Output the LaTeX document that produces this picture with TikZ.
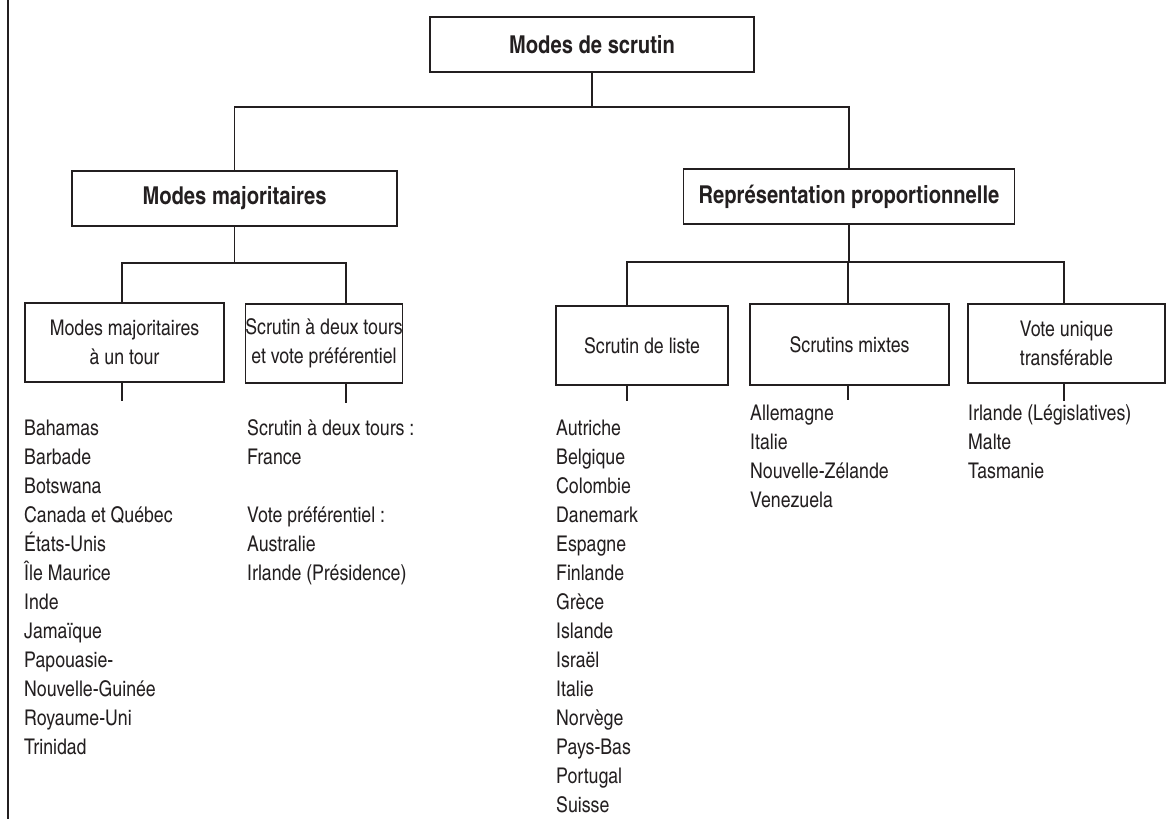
\documentclass[tikz,border=0pt]{standalone}
\usepackage{fontspec}
\setmainfont{texgyreheroscn}[Extension=.otf,UprightFont=*-regular,BoldFont=*-bold,ItalicFont=*-italic,BoldItalicFont=*-bolditalic]
\usetikzlibrary{positioning}
\definecolor{ink}{HTML}{231F20}

\begin{document}
\begin{tikzpicture}[x=1pt,y=-1pt,
  every node/.style={text=ink,font=\fontsize{21.6}{29}\selectfont},
  modebox/.style={draw=ink,line width=1.2pt,inner sep=0pt,align=center},
  headbox/.style={modebox,font=\fontsize{24.6}{29}\selectfont\bfseries,
                  minimum height=55},
  country/.style={anchor=base west,inner sep=0pt},
  link/.style={draw=ink,line width=1.2pt}]

  \useasboundingbox (0,0) rectangle (1173,819);
  \draw [link] (8,0) -- (8,819);

  % top level
  \node [headbox,minimum width=324] (root) at (592,44.5) {Modes de scrutin};
  \node [headbox,minimum width=325] (major) at (234.5,198.5) {Modes majoritaires};
  \node [headbox,minimum width=331] (propor) at (849,196.5)
        {Représentation proportionnelle};

  \coordinate (jTop) at (0,107);
  \draw [link] (root.south) -- (root.south |- jTop);
  \draw [link] (major.north) -- (major.north |- jTop)
        -- (propor.north |- jTop) -- (propor.north);

  % modes majoritaires
  \node [modebox,minimum width=199,minimum height=79] (unTour) at (124.5,342.5)
        {Modes majoritaires\\à un tour};
  \node [modebox,minimum width=154,minimum height=79] (deuxTours) at (324,343.5)
        {Scrutin à deux tours\\et vote préférentiel};

  \coordinate (jUn) at (122,263);
  \coordinate (jDeux) at (346,263);
  \draw [link] (major.south) -- (major.south |- jUn);
  \draw [link] (jUn |- unTour.north) -- (jUn) -- (jDeux)
        -- (jDeux |- deuxTours.north);

  \coordinate (sUn) at (122,401);
  \coordinate (sDeux) at (346,403);
  \draw [link] (jUn |- unTour.south) -- (sUn);
  \draw [link] (jDeux |- deuxTours.south) -- (sDeux);

  % representation proportionnelle
  \node [modebox,minimum width=172,minimum height=79] (liste) at (642,345.5)
        {Scrutin de liste};
  \node [modebox,minimum width=199,minimum height=81] (mixtes) at (849.5,344.5)
        {Scrutins mixtes};
  \node [modebox,minimum width=197,minimum height=79] (vut) at (1066.5,343.5)
        {Vote unique\\transférable};

  \coordinate (jListe) at (627,262);
  \coordinate (jMixtes) at (848,262);
  \coordinate (jVut) at (1064,262);
  \draw [link] (propor.south) -- (propor.south |- jMixtes);
  \draw [link] (jListe |- liste.north) -- (jListe) -- (jVut)
        -- (jVut |- vut.north);
  \draw [link] (jMixtes) -- (jMixtes |- mixtes.north);

  \coordinate (sListe) at (627,401);
  \coordinate (sMixtes) at (848,400);
  \coordinate (sVut) at (1064,401);
  \draw [link] (jListe |- liste.south) -- (sListe);
  \draw [link] (jMixtes |- mixtes.south) -- (sMixtes);
  \draw [link] (jVut |- vut.south) -- (sVut);

  % pays
  \foreach \pays [count=\i] in {Bahamas, Barbade, Botswana, Canada et Québec,
      États-Unis, Île Maurice, Inde, Jamaïque, Papouasie-,
      Nouvelle-Guinée, Royaume-Uni, Trinidad}
    \node [country] (un-\i) at (24,{435+29*(\i-1)}) {\pays};

  \node [country] (deux-1) at (247,435) {Scrutin à deux tours :};
  \node [country] (deux-2) at (247,464) {France};
  \node [country] (deux-3) at (247,522) {Vote préférentiel :};
  \node [country] (deux-4) at (247,551) {Australie};
  \node [country] (deux-5) at (247,580) {Irlande (Présidence)};

  \foreach \pays [count=\i] in {Autriche, Belgique, Colombie, Danemark,
      Espagne, Finlande, Grèce, Islande, Israël, Italie, Norvège,
      Pays-Bas, Portugal, Suisse}
    \node [country] (liste-\i) at (556,{435+29*(\i-1)}) {\pays};

  \foreach \pays [count=\i] in {Allemagne, Italie, Nouvelle-Zélande, Venezuela}
    \node [country] (mixtes-\i) at (750,{420+29*(\i-1)}) {\pays};

  \foreach \pays [count=\i] in {Irlande (Législatives), Malte, Tasmanie}
    \node [country] (vut-\i) at (968,{420+29*(\i-1)}) {\pays};

\end{tikzpicture}
\end{document}
